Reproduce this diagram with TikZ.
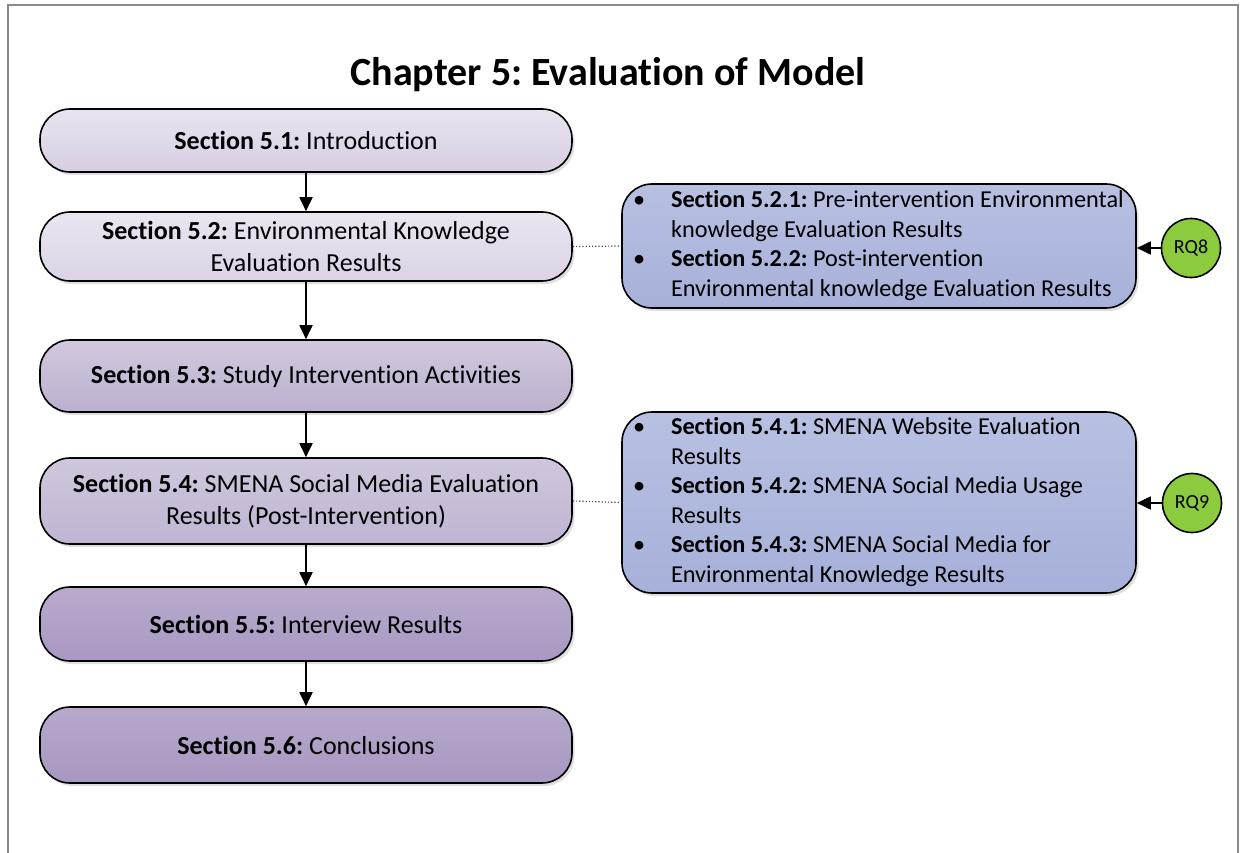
\documentclass[tikz,border=0pt]{standalone}
\usepackage{fontspec}
\setmainfont{Carlito}[Ligatures=NoCommon]
\usetikzlibrary{arrows.meta,shadows}

\definecolor{secAt}{HTML}{E9E4F0}\definecolor{secAb}{HTML}{D7CEE2}
\definecolor{secBt}{HTML}{EAE6F0}\definecolor{secBb}{HTML}{DAD3E5}
\definecolor{secCt}{HTML}{D2C9DF}\definecolor{secCb}{HTML}{BCAFCF}
\definecolor{secDt}{HTML}{D0C7DD}\definecolor{secDb}{HTML}{C0B4D3}
\definecolor{secEt}{HTML}{B9ABCD}\definecolor{secEb}{HTML}{A898C2}
\definecolor{secFt}{HTML}{B7A9CC}\definecolor{secFb}{HTML}{A797C1}
\definecolor{subT}{HTML}{B8C0E2}\definecolor{subB}{HTML}{A7B0D9}
\definecolor{rqgreen}{HTML}{8CCB3E}
\definecolor{framegray}{HTML}{8A8A8A}

% natural interword spacing inside aligned nodes
\newcommand{\plainspaces}{\frenchspacing\spaceskip=0pt\xspaceskip=0pt\relax}

\begin{document}
\frenchspacing
\begin{tikzpicture}[x=1pt,y=-1pt,
  boxshadow/.style={drop shadow={shadow xshift=2.5pt,shadow yshift=-3pt,opacity=0.25}},
  secbox/.style={draw=black,line width=1.6pt,rounded corners=30pt,
    minimum width=532pt,inner sep=0pt,align=center,
    font=\fontsize{26}{31.5}\selectfont,boxshadow},
  subbox/.style={draw=black,line width=1.6pt,rounded corners=30pt,
    top color=subT,bottom color=subB,text width=492pt,inner xsep=11pt,
    inner ysep=0pt,align=left,font=\fontsize{24.3}{29.5}\selectfont,boxshadow},
  rq/.style={circle,draw=black,line width=1.6pt,fill=rqgreen,
    minimum size=59pt,inner sep=0pt,font=\fontsize{20}{24}\selectfont},
  flow/.style={line width=1.8pt,-{Triangle[length=14pt,width=13pt]}},
  link/.style={dotted,line width=1.2pt,black!70}
]
\useasboundingbox (0,0) rectangle (1241,853);

% page frame
\draw[framegray,line width=1.5pt] (8,853) -- (8,5) -- (1238,5) -- (1238,853);

% title
\node[font=\fontsize{40}{48}\selectfont\bfseries] (title) at (608,75)
  {\plainspaces Chapter 5: Evaluation of Model};

% chapter sections
\node[secbox,minimum height=63pt,top color=secAt,bottom color=secAb] (s1) at (306,140.5)
  {\plainspaces\textbf{Section 5.1:} Introduction};
\node[secbox,minimum height=69pt,top color=secBt,bottom color=secBb] (s2) at (306,246.5)
  {\plainspaces\textbf{Section 5.2:} Environmental Knowledge\\Evaluation Results};
\node[secbox,minimum height=72pt,top color=secCt,bottom color=secCb] (s3) at (306,376)
  {\plainspaces\textbf{Section 5.3:} Study Intervention Activities};
\node[secbox,minimum height=86pt,top color=secDt,bottom color=secDb] (s4) at (306,501)
  {\plainspaces\textbf{Section 5.4:} SMENA Social Media Evaluation\\Results (Post-Intervention)};
\node[secbox,minimum height=74pt,top color=secEt,bottom color=secEb] (s5) at (306,624)
  {\plainspaces\textbf{Section 5.5:} Interview Results};
\node[secbox,minimum height=76pt,top color=secFt,bottom color=secFb] (s6) at (306,745)
  {\plainspaces\textbf{Section 5.6:} Conclusions};

% subsection boxes
\node[subbox,minimum height=124pt] (sub2) at (879,246)
  {\plainspaces
   \begin{tabular}{@{}p{38pt}@{}l@{}}
   \textbullet & \textbf{Section 5.2.1:} Pre-intervention Environmental\\
   & knowledge Evaluation Results\\
   \textbullet & \textbf{Section 5.2.2:} Post-intervention\\
   & Environmental knowledge Evaluation Results
   \end{tabular}};
\node[subbox,minimum height=181pt] (sub4) at (879,502.5)
  {\plainspaces
   \begin{tabular}{@{}p{38pt}@{}l@{}}
   \textbullet & \textbf{Section 5.4.1:} SMENA Website Evaluation\\
   & Results\\
   \textbullet & \textbf{Section 5.4.2:} SMENA Social Media Usage\\
   & Results\\
   \textbullet & \textbf{Section 5.4.3:} SMENA Social Media for\\
   & Environmental Knowledge Results
   \end{tabular}};

% research questions
\node[rq] (rq8) at (1191,248) {RQ8};
\node[rq] (rq9) at (1192,503) {RQ9};

% flow between sections
\draw[flow] (s1.south) -- (s2.north);
\draw[flow] (s2.south) -- (s3.north);
\draw[flow] (s3.south) -- (s4.north);
\draw[flow] (s4.south) -- (s5.north);
\draw[flow] (s5.south) -- (s6.north);

% links to subsections
\draw[link] (s2.east) -- (sub2.west);
\draw[link] (s4.east) -- (sub4.west);

% research questions feeding subsections
\draw[flow] (rq8.west) -- (rq8.west -| sub2.east);
\draw[flow] (rq9.west) -- (rq9.west -| sub4.east);
\end{tikzpicture}
\end{document}
